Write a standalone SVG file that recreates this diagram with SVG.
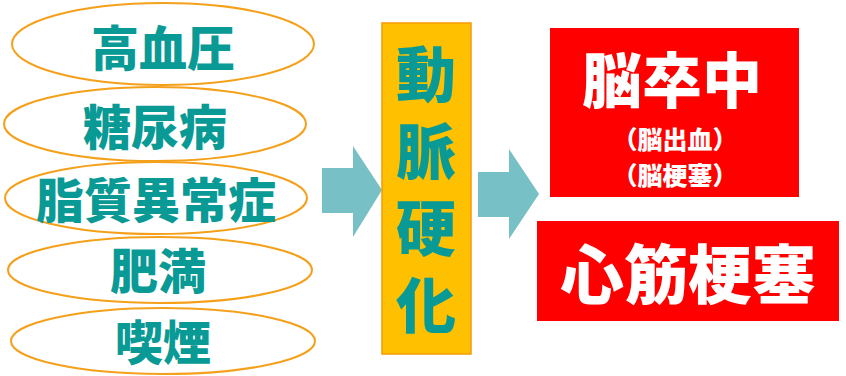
<svg xmlns="http://www.w3.org/2000/svg" width="846" height="376" viewBox="0 0 846 376">
<style>
.ell{fill:#ffffff;stroke:#F5A01A;stroke-width:2}
.t{font-family:"Noto Sans CJK JP","Noto Sans CJK SC",sans-serif;font-weight:900;text-anchor:middle}
.teal{fill:#0A9A96}
.white{fill:#ffffff}
.arrow{fill:#76C0C6}
</style>
<rect width="846" height="376" fill="#ffffff"/>
<g id="n-koketsuatsu">
<ellipse class="ell" cx="163" cy="44" rx="151" ry="41"/>
<text class="t teal" x="163" y="66" font-size="48">高血圧</text>
</g>
<g id="n-tonyobyo">
<ellipse class="ell" cx="155" cy="124" rx="151" ry="37"/>
<text class="t teal" x="155" y="145" font-size="48">糖尿病</text>
</g>
<g id="n-shishitsu">
<ellipse class="ell" cx="156" cy="198" rx="151" ry="36"/>
<text class="t teal" x="156" y="218" font-size="48">脂質異常症</text>
</g>
<g id="n-himan">
<ellipse class="ell" cx="160" cy="270" rx="152" ry="33"/>
<text class="t teal" x="158" y="289" font-size="48">肥満</text>
</g>
<g id="n-kitsuen">
<ellipse class="ell" cx="163" cy="341" rx="152" ry="33"/>
<text class="t teal" x="163" y="360" font-size="48">喫煙</text>
</g>
<g id="connectors">
<polygon class="arrow" points="322,168 353,168 353,146 382,190 353,237 353,213 322,213"/>
<polygon class="arrow" points="478,172 509,172 509,149 539,194 509,239 509,217 478,217"/>
</g>
<g id="n-domyaku">
<rect x="382" y="23" width="89" height="331" fill="#FFC000" stroke="#F59A00" stroke-width="1.5"/>
<text class="teal" x="426" y="44" font-size="60" font-family="'Noto Sans CJK JP','Noto Sans CJK SC',sans-serif" font-weight="900" writing-mode="vertical-rl" letter-spacing="17">動脈硬化</text>
</g>
<g id="n-nosotchu">
<rect x="550" y="28" width="249" height="169" fill="#FF0000"/>
<text class="t white" x="672" y="103" font-size="60">脳卒中</text>
<text class="t white" x="675" y="149" font-size="25">（脳出血）</text>
<text class="t white" x="675" y="185" font-size="25">（脳梗塞）</text>
</g>
<g id="n-shinkinkosoku">
<rect x="537" y="221" width="302" height="100" fill="#FF0000"/>
<text class="t white" x="688" y="298" font-size="64">心筋梗塞</text>
</g>
</svg>
